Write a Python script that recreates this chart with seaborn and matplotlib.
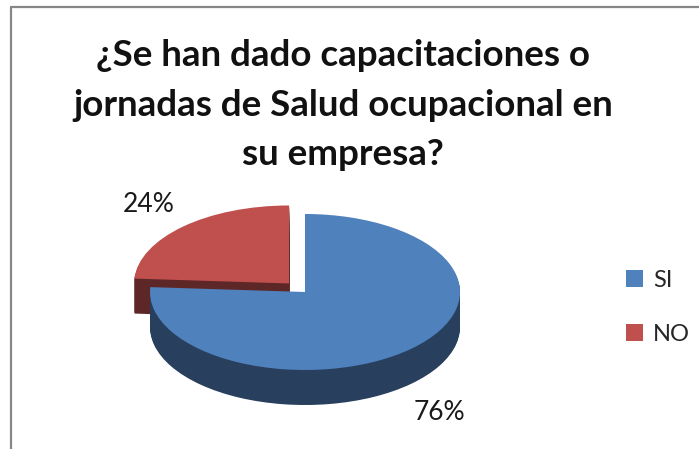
import numpy as np
import matplotlib
matplotlib.use("Agg")
import matplotlib.pyplot as plt
import seaborn as sns
from matplotlib.transforms import Affine2D
from matplotlib.lines import Line2D

categories = ["SI", "NO"]
values = [76, 24]
title = "¿Se han dado capacitaciones o\njornadas de Salud ocupacional en\nsu empresa?"

top_colors = ["#4F81BD", "#C0504D"]
side_colors = ["#283F5E", "#5E2727"]

sns.set_theme(style="white")
plt.rcParams["font.family"] = ["Lato", "DejaVu Sans"]

W, H = 699, 449
fig = plt.figure(figsize=(W / 100, H / 100), dpi=100)
fig.patch.set_facecolor("white")
ax = fig.add_axes([0, 0, 1, 1])

# pie geometry (pixels, y up)
cx, cy = 305, 157
rx, ry = 155, 78
depth = 35
explode = [0, 0.15]


def pie_tf(off):
    return Affine2D().scale(rx, ry).translate(cx, cy - off) + ax.transData


top_wedges = None
for k in list(range(depth, 0, -1)) + [0]:
    cols = side_colors if k > 0 else top_colors
    wedges, _ = ax.pie(values, explode=explode, startangle=90, counterclock=False,
                       colors=cols, radius=1, center=(0, 0), frame=True,
                       wedgeprops=dict(linewidth=0, antialiased=True))
    for w in wedges:
        w.set_transform(pie_tf(k))
    if k == 0:
        top_wedges = wedges

ax.set_autoscale_on(False)
ax.set_aspect("auto")
ax.set_xlim(0, W)
ax.set_ylim(0, H)
ax.axis("off")

# percentage labels
label_pos = [(0.87, -1.54), (-1.01, 1.12)]
for v, (lx, ly) in zip(values, label_pos):
    ax.text(lx, ly, f"{v}%", transform=pie_tf(0), ha="center", va="center",
            fontsize=19, color="#1a1a1a")

fig.text(343 / W, 1 - 105 / H, title, ha="center", va="center", fontsize=26.5,
         fontweight="bold", linespacing=1.6, color="#111111")

leg = ax.legend(top_wedges, categories, loc="upper left",
                bbox_to_anchor=(626 / W, 1 - 270 / H), bbox_transform=fig.transFigure,
                frameon=False, fontsize=17, borderpad=0, borderaxespad=0,
                handlelength=0.72, handleheight=0.72, handletextpad=0.42,
                labelspacing=1.4)

# chart border (top and left visible)
fig.add_artist(Line2D([10.5 / W, 1], [1 - 6.5 / H] * 2, transform=fig.transFigure,
                      color="#878787", lw=1.6))
fig.add_artist(Line2D([10.5 / W] * 2, [0, 1 - 6.5 / H], transform=fig.transFigure,
                      color="#878787", lw=1.6))

fig.savefig("out.png", dpi=100)
